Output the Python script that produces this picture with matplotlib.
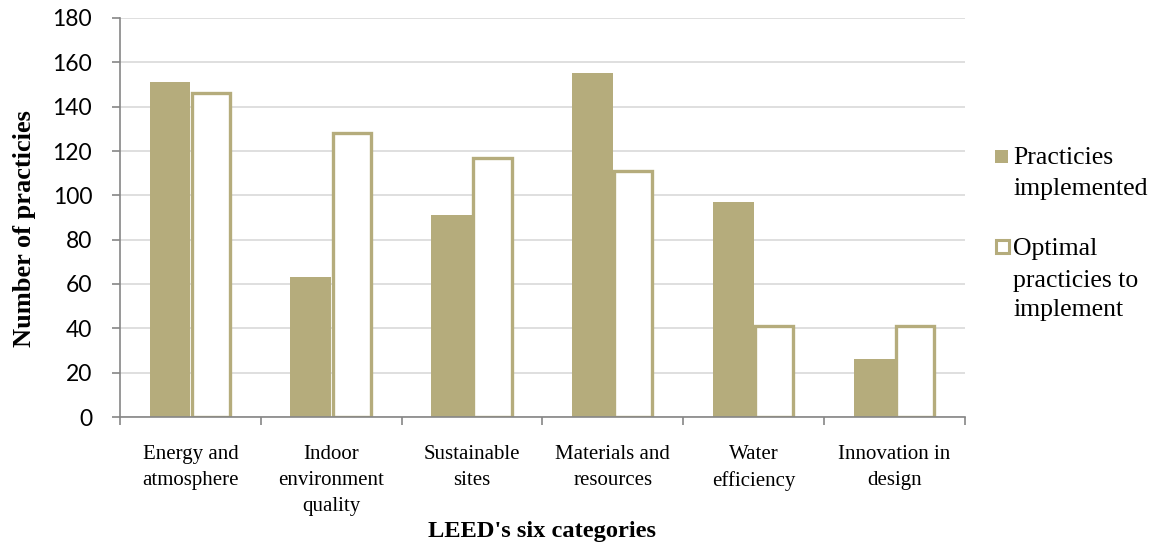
import matplotlib
matplotlib.use("Agg")
import matplotlib.pyplot as plt
from matplotlib.patches import Rectangle
import numpy as np

# Data: LEED categories and practice counts
categories = ["Energy and\natmosphere", "Indoor\nenvironment\nquality", "Sustainable\nsites",
              "Materials and\nresources", "Water\nefficiency", "Innovation in\ndesign"]
implemented = [151, 63, 91, 155, 97, 26]
optimal = [146, 128, 117, 111, 41, 41]
yticks = list(range(0, 181, 20))
legend_labels = [["Practicies", "implemented"], ["Optimal", "practicies to", "implement"]]

BAR = "#B5AC7C"
GRID = "#D9D9D9"
AXIS = "#868686"
SERIF = "Liberation Serif"

W, H = 1157, 548
fig = plt.figure(figsize=(W / 100, H / 100), dpi=100)
ax = fig.add_axes([120 / W, (H - 417) / H, 845 / W, 399 / H])

x = np.arange(len(categories))
bw = 0.29
ax.bar(x - bw / 2, implemented, width=bw, color=BAR, edgecolor="none", zorder=3)
ax.bar(x + bw / 2, optimal, width=bw - 0.02, facecolor="white", edgecolor=BAR,
       linewidth=2.4, zorder=3)

ax.set_xlim(-0.5, len(categories) - 0.5)
ax.set_ylim(0, 180)
ax.set_yticks(yticks)
ax.set_yticklabels([str(v) for v in yticks], fontfamily="Lato", fontsize=16.5)
ax.yaxis.grid(True, color=GRID, linewidth=1.2, zorder=0)
ax.set_axisbelow(True)

ax.set_xticks(x)
ax.set_xticklabels(categories, fontfamily=SERIF, fontsize=15, linespacing=1.5)
ax.set_xticks(np.arange(-0.5, len(categories)), minor=True)
ax.tick_params(axis="x", which="major", length=0, pad=20)
ax.tick_params(axis="x", which="minor", length=6, width=1.2, color=AXIS)
ax.tick_params(axis="y", length=6, width=1.2, color=AXIS, pad=14)

for s in ("top", "right"):
    ax.spines[s].set_visible(False)
for s in ("left", "bottom"):
    ax.spines[s].set_color(AXIS)
    ax.spines[s].set_linewidth(1.2)
    ax.spines[s].set_zorder(4)

ax.set_ylabel("Number of practicies", fontfamily=SERIF, fontweight="bold", fontsize=19)
ax.yaxis.set_label_coords(-95 / 845, (417 - 229) / 399)
ax.yaxis.label.set_verticalalignment("center")
ax.set_xlabel("LEED's six categories", fontfamily=SERIF, fontweight="bold", fontsize=17.6)
ax.xaxis.set_label_coords(0.5, -(532 - 417) / 399)
ax.xaxis.label.set_verticalalignment("center")

# Legend drawn in figure pixel space
def fx(px):
    return px / W

def fy(py):
    return (H - py) / H

fig.patches.append(Rectangle((fx(995), fy(163)), 13 / W, 13 / H, transform=fig.transFigure,
                             facecolor=BAR, edgecolor="none", figure=fig))
fig.patches.append(Rectangle((fx(995.5), fy(253)), 13 / W, 13 / H, transform=fig.transFigure,
                             facecolor="white", edgecolor=BAR, linewidth=2.2, figure=fig))
baselines = [[164, 195], [255, 287, 316]]
for lines, bls in zip(legend_labels, baselines):
    for t, b in zip(lines, bls):
        fig.text(fx(1013), fy(b), t, fontfamily=SERIF, fontsize=18.5, va="baseline", ha="left")

fig.savefig("out.png", dpi=100)
